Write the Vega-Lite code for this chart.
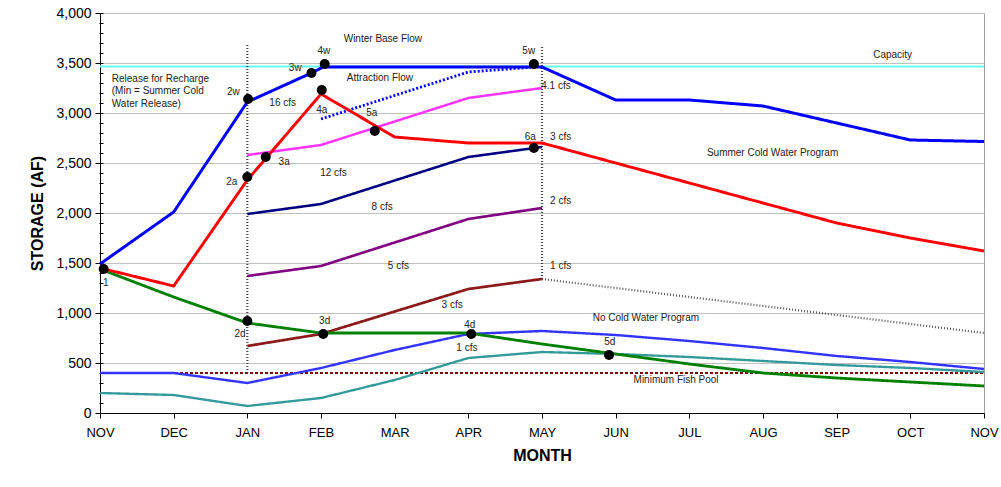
{
  "$schema": "https://vega.github.io/schema/vega-lite/v6.json",
  "width": 884,
  "height": 400,
  "autosize": {"type": "none"},
  "padding": {"left": 100, "top": 13, "right": 17, "bottom": 74},
  "background": "white",
  "config": {"view": {"stroke": "#a0a0a0"}, "font": "Liberation Sans"},
  "datasets": {
    "lines": [
      {"s": "cap", "x": 0, "y": 3465}, {"s": "cap", "x": 12, "y": 3465},
      {"s": "fish", "x": 0, "y": 400}, {"s": "fish", "x": 12, "y": 400},
      {"s": "vjan", "x": 2, "y": 400}, {"s": "vjan", "x": 2, "y": 3680},
      {"s": "vmay", "x": 6, "y": 1340}, {"s": "vmay", "x": 6, "y": 3680},
      {"s": "gdot", "x": 6, "y": 1340}, {"s": "gdot", "x": 12, "y": 800},
      {"s": "teal", "x": 0, "y": 200}, {"s": "teal", "x": 1, "y": 180}, {"s": "teal", "x": 2, "y": 70}, {"s": "teal", "x": 3, "y": 150}, {"s": "teal", "x": 4, "y": 330}, {"s": "teal", "x": 5, "y": 550}, {"s": "teal", "x": 6, "y": 610}, {"s": "teal", "x": 7, "y": 590}, {"s": "teal", "x": 8, "y": 560}, {"s": "teal", "x": 9, "y": 520}, {"s": "teal", "x": 10, "y": 480}, {"s": "teal", "x": 11, "y": 450}, {"s": "teal", "x": 12, "y": 410},
      {"s": "blue2", "x": 0, "y": 400}, {"s": "blue2", "x": 1, "y": 400}, {"s": "blue2", "x": 2, "y": 300}, {"s": "blue2", "x": 3, "y": 450}, {"s": "blue2", "x": 4, "y": 630}, {"s": "blue2", "x": 5, "y": 790}, {"s": "blue2", "x": 6, "y": 820}, {"s": "blue2", "x": 7, "y": 780}, {"s": "blue2", "x": 8, "y": 720}, {"s": "blue2", "x": 9, "y": 650}, {"s": "blue2", "x": 10, "y": 570}, {"s": "blue2", "x": 11, "y": 510}, {"s": "blue2", "x": 12, "y": 440},
      {"s": "mag", "x": 2, "y": 2580}, {"s": "mag", "x": 3, "y": 2680}, {"s": "mag", "x": 5, "y": 3150}, {"s": "mag", "x": 6, "y": 3250},
      {"s": "navy", "x": 2, "y": 1990}, {"s": "navy", "x": 3, "y": 2090}, {"s": "navy", "x": 5, "y": 2560}, {"s": "navy", "x": 6, "y": 2660},
      {"s": "purp", "x": 2, "y": 1370}, {"s": "purp", "x": 3, "y": 1470}, {"s": "purp", "x": 5, "y": 1940}, {"s": "purp", "x": 6, "y": 2050},
      {"s": "brown", "x": 2, "y": 670}, {"s": "brown", "x": 3, "y": 790}, {"s": "brown", "x": 5, "y": 1240}, {"s": "brown", "x": 6, "y": 1340},
      {"s": "attr", "x": 3, "y": 2940}, {"s": "attr", "x": 5, "y": 3410}, {"s": "attr", "x": 5.9, "y": 3460},
      {"s": "green", "x": 0, "y": 1440}, {"s": "green", "x": 1, "y": 1160}, {"s": "green", "x": 2, "y": 900}, {"s": "green", "x": 3, "y": 800}, {"s": "green", "x": 4, "y": 800}, {"s": "green", "x": 5, "y": 800}, {"s": "green", "x": 6, "y": 690}, {"s": "green", "x": 7, "y": 590}, {"s": "green", "x": 8, "y": 490}, {"s": "green", "x": 9, "y": 400}, {"s": "green", "x": 10, "y": 350}, {"s": "green", "x": 11, "y": 310}, {"s": "green", "x": 12, "y": 270},
      {"s": "red", "x": 0, "y": 1450}, {"s": "red", "x": 1, "y": 1270}, {"s": "red", "x": 2, "y": 2330}, {"s": "red", "x": 3, "y": 3190}, {"s": "red", "x": 4, "y": 2760}, {"s": "red", "x": 5, "y": 2700}, {"s": "red", "x": 6, "y": 2700}, {"s": "red", "x": 7, "y": 2500}, {"s": "red", "x": 8, "y": 2300}, {"s": "red", "x": 9, "y": 2100}, {"s": "red", "x": 10, "y": 1900}, {"s": "red", "x": 11, "y": 1750}, {"s": "red", "x": 12, "y": 1620},
      {"s": "blue", "x": 0, "y": 1490}, {"s": "blue", "x": 1, "y": 2010}, {"s": "blue", "x": 2, "y": 3110}, {"s": "blue", "x": 2.87, "y": 3400}, {"s": "blue", "x": 3.03, "y": 3460}, {"s": "blue", "x": 6, "y": 3460}, {"s": "blue", "x": 7, "y": 3130}, {"s": "blue", "x": 8, "y": 3130}, {"s": "blue", "x": 9, "y": 3070}, {"s": "blue", "x": 10, "y": 2900}, {"s": "blue", "x": 11, "y": 2730}, {"s": "blue", "x": 12, "y": 2715}
    ],
    "pts": [
      {"t": "1", "x": 0.05, "y": 1440},
      {"t": "2w", "x": 2.01, "y": 3140},
      {"t": "3w", "x": 2.87, "y": 3400},
      {"t": "4w", "x": 3.05, "y": 3490},
      {"t": "5w", "x": 5.89, "y": 3490},
      {"t": "2a", "x": 2.0, "y": 2360},
      {"t": "3a", "x": 2.25, "y": 2560},
      {"t": "4a", "x": 3.01, "y": 3230},
      {"t": "5a", "x": 3.73, "y": 2820},
      {"t": "6a", "x": 5.89, "y": 2650},
      {"t": "2d", "x": 2.0, "y": 920},
      {"t": "3d", "x": 3.03, "y": 790},
      {"t": "4d", "x": 5.04, "y": 790},
      {"t": "5d", "x": 6.91, "y": 580}
    ],
    "ptlabels": [
      {"t": "1", "x": 0.08, "y": 1300},
      {"t": "2w", "x": 1.81, "y": 3210},
      {"t": "3w", "x": 2.65, "y": 3450},
      {"t": "4w", "x": 3.04, "y": 3620},
      {"t": "5w", "x": 5.82, "y": 3620},
      {"t": "2a", "x": 1.79, "y": 2310},
      {"t": "3a", "x": 2.5, "y": 2510},
      {"t": "4a", "x": 3.01, "y": 3030},
      {"t": "5a", "x": 3.69, "y": 3000},
      {"t": "6a", "x": 5.84, "y": 2760},
      {"t": "2d", "x": 1.9, "y": 790},
      {"t": "3d", "x": 3.05, "y": 920},
      {"t": "4d", "x": 5.02, "y": 880},
      {"t": "5d", "x": 6.92, "y": 710}
    ],
    "notes": [
      {"t": "Winter Base Flow", "x": 3.84, "y": 3740},
      {"t": "Attraction Flow", "x": 3.8, "y": 3350},
      {"t": "Capacity", "x": 10.76, "y": 3580},
      {"t": "16 cfs", "x": 2.48, "y": 3100},
      {"t": "12 cfs", "x": 3.17, "y": 2400},
      {"t": "8 cfs", "x": 3.83, "y": 2060},
      {"t": "5 cfs", "x": 4.05, "y": 1470},
      {"t": "3 cfs", "x": 4.78, "y": 1080},
      {"t": "1 cfs", "x": 4.98, "y": 650},
      {"t": "Summer Cold Water Program", "x": 9.13, "y": 2600},
      {"t": "No Cold Water Program", "x": 7.41, "y": 950},
      {"t": "Minimum Fish Pool", "x": 7.82, "y": 330}
    ],
    "notesLeft": [
      {"t": "4.1 cfs", "x": 5.99, "y": 3270},
      {"t": "3 cfs", "x": 6.11, "y": 2760},
      {"t": "2 cfs", "x": 6.11, "y": 2120},
      {"t": "1 cfs", "x": 6.11, "y": 1470},
      {"t": "Release for Recharge", "x": 0.16, "y": 3340},
      {"t": "(Min = Summer Cold", "x": 0.16, "y": 3220},
      {"t": "Water Release)", "x": 0.16, "y": 3090}
    ]
  },
  "layer": [
    {
      "encoding": {
        "x": {
          "field": "x", "type": "quantitative",
          "scale": {"domain": [0, 12], "nice": false, "zero": false},
          "axis": {
            "values": [0, 1, 2, 3, 4, 5, 6, 7, 8, 9, 10, 11, 12],
            "labelExpr": "['NOV','DEC','JAN','FEB','MAR','APR','MAY','JUN','JUL','AUG','SEP','OCT','NOV'][datum.value]",
            "grid": false, "tickSize": 5, "tickColor": "black", "domainColor": "black",
            "labelFontSize": 13, "labelColor": "black", "labelPadding": 8, "labelFlush": false,
            "title": "MONTH", "titleFontSize": 16, "titleFontWeight": "bold", "titleColor": "black", "titlePadding": 8
          }
        },
        "y": {
          "field": "y", "type": "quantitative",
          "scale": {"domain": [0, 4000], "nice": false},
          "axis": {
            "values": [0, 500, 1000, 1500, 2000, 2500, 3000, 3500, 4000],
            "format": ",.0f", "grid": true, "gridColor": "#c0c0c0", "tickSize": 5, "tickColor": "black", "domainColor": "black",
            "labelFontSize": 14, "labelColor": "black", "labelPadding": 4,
            "title": "STORAGE (AF)", "titleFontSize": 16, "titleFontWeight": "bold", "titleColor": "black", "titlePadding": 10
          }
        }
      },
      "layer": [
        {
          "data": {"name": "lines"},
          "mark": {"type": "line"},
          "encoding": {
            "color": {
              "field": "s", "type": "nominal", "legend": null,
              "scale": {
                "domain": ["cap", "fish", "vjan", "vmay", "gdot", "teal", "blue2", "mag", "navy", "purp", "brown", "attr", "green", "red", "blue"],
                "range": ["#66FFFF", "#800000", "#444444", "#444444", "#555555", "#339999", "#3333FF", "#FF33FF", "#000080", "#800080", "#8B1A1A", "#0000FF", "#008000", "#FF0000", "#0000FF"]
              }
            },
            "strokeWidth": {
              "field": "s", "type": "nominal", "legend": null,
              "scale": {
                "domain": ["cap", "fish", "vjan", "vmay", "gdot", "teal", "blue2", "mag", "navy", "purp", "brown", "attr", "green", "red", "blue"],
                "range": [2, 3, 1, 1, 1, 1.2, 1.2, 0.9, 0.9, 0.9, 0.9, 2, 2, 2, 2]
              }
            },
            "strokeDash": {
              "field": "s", "type": "nominal", "legend": null,
              "scale": {
                "domain": ["cap", "fish", "vjan", "vmay", "gdot", "teal", "blue2", "mag", "navy", "purp", "brown", "attr", "green", "red", "blue"],
                "range": [[1, 0], [3, 2], [1, 2], [1, 2], [1, 2], [1, 0], [1, 0], [1, 0], [1, 0], [1, 0], [1, 0], [2, 2], [1, 0], [1, 0], [1, 0]]
              }
            }
          }
        },
        {
          "data": {"name": "pts"},
          "mark": {"type": "point", "filled": true, "color": "black", "opacity": 1, "size": 100}
        },
        {
          "data": {"name": "ptlabels"},
          "mark": {"type": "text", "fontSize": 10, "color": "#222222", "align": "center", "baseline": "middle"},
          "encoding": {"text": {"field": "t"}}
        },
        {
          "data": {"name": "notes"},
          "mark": {"type": "text", "fontSize": 10, "color": "#222222", "align": "center", "baseline": "middle"},
          "encoding": {"text": {"field": "t"}}
        },
        {
          "data": {"name": "notesLeft"},
          "mark": {"type": "text", "fontSize": 10, "color": "#222222", "align": "left", "baseline": "middle"},
          "encoding": {"text": {"field": "t"}}
        }
      ]
    },
    {
      "data": {"name": "pts"},
      "mark": {"type": "point", "opacity": 0},
      "encoding": {
        "y": {
          "field": "y", "type": "quantitative",
          "scale": {"domain": [0, 4000], "nice": false},
          "axis": {
            "orient": "left",
            "values": [0, 100, 200, 300, 400, 500, 600, 700, 800, 900, 1000, 1100, 1200, 1300, 1400, 1500, 1600, 1700, 1800, 1900, 2000, 2100, 2200, 2300, 2400, 2500, 2600, 2700, 2800, 2900, 3000, 3100, 3200, 3300, 3400, 3500, 3600, 3700, 3800, 3900, 4000],
            "labels": false, "grid": false, "domain": false, "tickSize": 4, "offset": -3, "tickColor": "black", "title": null
          }
        }
      }
    }
  ],
  "resolve": {"axis": {"y": "independent"}}
}
